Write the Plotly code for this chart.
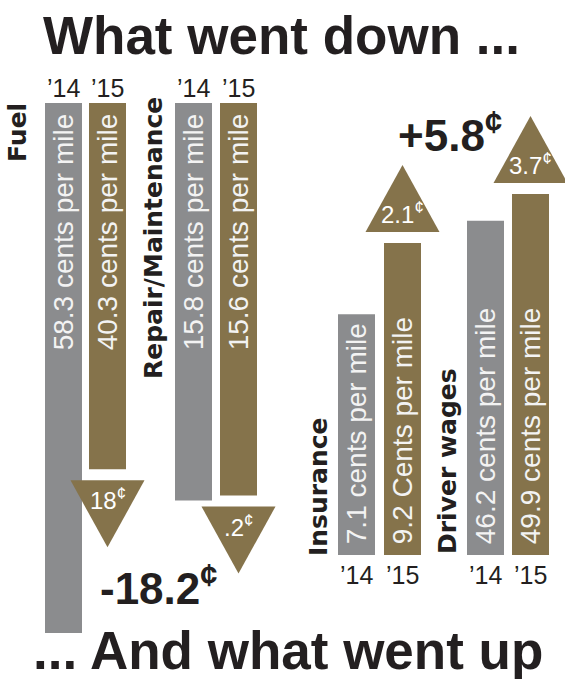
import plotly.graph_objects as go

# ---------------- data ----------------
categories = ["Fuel", "Repair/Maintenance", "Insurance", "Driver wages"]
years = ["’14", "’15"]
cents_2014 = [58.3, 15.8, 7.1, 46.2]
cents_2015 = [40.3, 15.6, 9.2, 49.9]
labels_2014 = ["58.3 cents per mile", "15.8 cents per mile", "7.1 cents per mile", "46.2 cents per mile"]
labels_2015 = ["40.3 cents per mile", "15.6 cents per mile", "9.2 Cents per mile", "49.9 cents per mile"]
change_labels = ["18", ".2", "2.1", "3.7"]
direction = ["down", "down", "up", "up"]
total_down = "-18.2"
total_up = "+5.8"
title_top = "What went down ..."
title_bottom = "... And what went up"

# ---------------- style / layout ----------------
W, H = 565, 679
GRAY = "#8b8c8e"
GOLD = "#85734b"
INK = "#231f20"
BAR_TEXT = "#f3f3f3"
BAR_W = 37
bar_x = [(63.5, 107.5), (193.5, 238.5), (356.5, 402.5), (485.5, 530.5)]
baseline_px = [103, 103, 555, 555]
px_per_cent = [9.09, 25.16, 33.9, 7.234]
cat_pos = [(18, 133), (154, 238), (318, 487), (447, 461)]
TRI_W, TRI_H, TRI_GAP = 74, 67, 11
NBSP = "\u00a0"

fig = go.Figure()
axis_names = ["y", "y2", "y3", "y4"]
layout_axes = {}

for i, cat in enumerate(categories):
    b, s = baseline_px[i], px_per_cent[i]
    ax = axis_names[i]
    if direction[i] == "down":
        rng = [(H - b) / s, -b / s]
        t14, t15 = labels_2014[i] + NBSP, labels_2015[i] + NBSP
        year_y = -15 / s
    else:
        rng = [(b - H) / s, b / s]
        t14, t15 = NBSP + labels_2014[i], NBSP + labels_2015[i]
        year_y = -20 / s
    key = "yaxis" if ax == "y" else "yaxis" + ax[1:]
    layout_axes[key] = dict(range=rng, visible=False, fixedrange=True, domain=[0, 1],
                            **({} if ax == "y" else dict(overlaying="y")))

    fig.add_trace(go.Bar(
        x=list(bar_x[i]), y=[cents_2014[i], cents_2015[i]], width=[BAR_W, BAR_W],
        yaxis=ax, marker=dict(color=[GRAY, GOLD], line=dict(width=0)),
        text=[t14, t15], textposition="inside", textangle=-90,
        insidetextanchor="start", constraintext="none",
        textfont=dict(family="Liberation Sans, Arial", size=28, color=BAR_TEXT),
        hoverinfo="skip", showlegend=False, cliponaxis=False,
    ))

    # year labels
    for xc, yr in zip(bar_x[i], years):
        fig.add_annotation(x=xc, y=year_y, xref="x", yref=ax, text=yr, showarrow=False,
                           font=dict(family="Liberation Sans, Arial", size=25, color=INK),
                           xanchor="center", yanchor="middle")

    # change triangle attached to 2015 bar
    c15 = bar_x[i][1]
    v = cents_2015[i]
    base_v = v + TRI_GAP / s
    apex_v = v + (TRI_GAP + TRI_H) / s
    fig.add_shape(type="path", xref="x", yref=ax, line=dict(width=0), fillcolor=GOLD,
                  path=f"M {c15 - TRI_W/2},{base_v} L {c15 + TRI_W/2},{base_v} L {c15},{apex_v} Z")
    fig.add_annotation(x=c15, y=v + (TRI_GAP + 19) / s, xref="x", yref=ax,
                       text=change_labels[i] + "<sup>¢</sup>", showarrow=False,
                       font=dict(family="Liberation Sans, Arial", size=24, color="white"),
                       xanchor="center", yanchor="middle")

    # category label
    cx, cy = cat_pos[i]
    fig.add_annotation(x=cx, y=1 - cy / H, xref="x", yref="paper", text=f"<b>{cat}</b>",
                       textangle=-90, showarrow=False,
                       font=dict(family="DejaVu Sans", size=25, color=INK),
                       xanchor="center", yanchor="middle")

# totals
fig.add_annotation(x=158, y=1 - 585 / H, xref="x", yref="paper",
                   text=f"<b>{total_down}<sup>¢</sup></b>", showarrow=False,
                   xanchor="center", yanchor="middle",
                   font=dict(family="Liberation Sans, Arial", size=44, color=INK))
fig.add_annotation(x=450, y=1 - 133 / H, xref="x", yref="paper",
                   text=f"<b>{total_up}<sup>¢</sup></b>", showarrow=False,
                   xanchor="center", yanchor="middle",
                   font=dict(family="Liberation Sans, Arial", size=44, color=INK))

# headlines
fig.add_annotation(x=281, y=1 - 35 / H, xref="x", yref="paper",
                   text=f"<b>{title_top}</b>", showarrow=False,
                   xanchor="center", yanchor="middle",
                   font=dict(family="Liberation Sans, Arial", size=53, color=INK))
fig.add_annotation(x=288, y=1 - 650 / H, xref="x", yref="paper",
                   text=f"<b>{title_bottom}</b>", showarrow=False,
                   xanchor="center", yanchor="middle",
                   font=dict(family="Liberation Sans, Arial", size=53, color=INK))

fig.update_layout(
    width=W, height=H, autosize=False,
    margin=dict(l=0, r=0, t=0, b=0),
    paper_bgcolor="white", plot_bgcolor="white",
    xaxis=dict(range=[0, W], visible=False, fixedrange=True),
    barmode="overlay", showlegend=False,
    **layout_axes,
)

fig.write_html("out.html", config={"displayModeBar": False},
               post_script="document.body.style.margin='0';document.body.style.overflow='hidden';")
